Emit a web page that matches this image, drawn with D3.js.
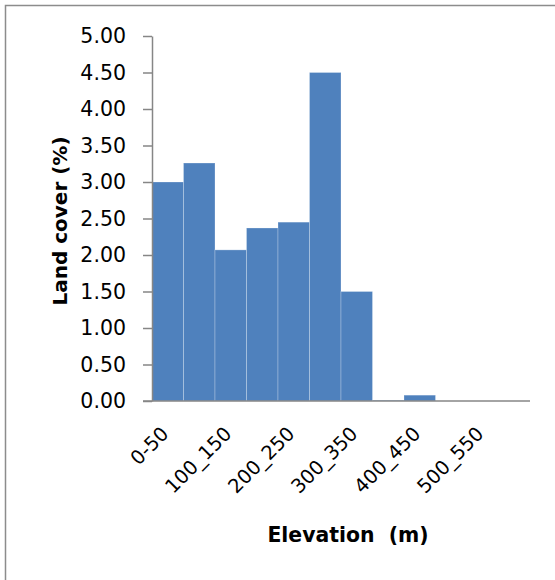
<!DOCTYPE html>
<html>
<head>
<meta charset="utf-8">
<script src="https://cdn.jsdelivr.net/npm/d3@7"></script>
<style>
  html, body { margin: 0; padding: 0; background: #fff; }
  svg { display: block; }
  text { font-family: "DejaVu Sans", "Open Sans", sans-serif; fill: #000; }
</style>
</head>
<body>
<svg id="chart" width="555" height="580"></svg>
<script>
// Share of land cover in each 50 m elevation band
const elevationBands = ["0-50", "50_100", "100_150", "150_200", "200_250", "250_300",
                        "300_350", "350_400", "400_450", "450_500", "500_550", "550_600"];
const landCoverPct = [3.00, 3.26, 2.07, 2.37, 2.45, 4.50, 1.50, 0.01, 0.08, 0, 0, 0];
const yTickValues = [0, 0.5, 1, 1.5, 2, 2.5, 3, 3.5, 4, 4.5, 5];
const xLabelBands = ["0-50", "100_150", "200_250", "300_350", "400_450", "500_550"];

const svg = d3.select("#chart");
const W = 555, H = 580;
const m = { left: 152, right: 25, top: 36, bottom: 179 };

// outer frame (only top and left edges fall inside the view)
svg.append("rect")
  .attr("x", 5.5).attr("y", 5.5)
  .attr("width", 600).attr("height", 600)
  .attr("fill", "none").attr("stroke", "#8c8c8c").attr("stroke-width", 1.5);

const x = d3.scaleBand().domain(elevationBands)
  .range([m.left, W - m.right]).padding(0);
const y = d3.scaleLinear().domain([0, 5]).range([H - m.bottom, m.top]);

const axisColor = "#868686";

// bars
svg.append("g").selectAll("rect")
  .data(elevationBands.map((b, i) => ({ band: b, v: landCoverPct[i] })))
  .join("rect")
  .attr("x", d => x(d.band))
  .attr("y", d => y(d.v))
  .attr("width", x.bandwidth())
  .attr("height", d => y(0) - y(d.v))
  .attr("fill", "#4F81BD")
  .attr("stroke", "rgba(255,255,255,0.25)")
  .attr("stroke-width", 1);

// y axis
const yAxis = svg.append("g")
  .attr("transform", `translate(${m.left},0)`)
  .call(d3.axisLeft(y).tickValues(yTickValues).tickFormat(d3.format(".2f"))
    .tickSizeInner(9).tickSizeOuter(0).tickPadding(17));
yAxis.select(".domain").attr("stroke", axisColor).attr("stroke-width", 1.5);
yAxis.selectAll(".tick line").attr("stroke", axisColor).attr("stroke-width", 1.5);
yAxis.selectAll(".tick text")
  .attr("font-size", 20.5)
  .style("font-family", "'DejaVu Sans', sans-serif")
  .attr("fill", "#000");

// x axis line (extends across the zero tick)
svg.append("line")
  .attr("x1", m.left - 9).attr("x2", W - m.right)
  .attr("y1", y(0)).attr("y2", y(0))
  .attr("stroke", axisColor).attr("stroke-width", 1.5);

// rotated category labels on every other band
svg.append("g").selectAll("text")
  .data(xLabelBands)
  .join("text")
  .attr("transform", d => `translate(${x(d) + x.bandwidth() / 2 + 2},${y(0) + 34}) rotate(-45)`)
  .attr("text-anchor", "end")
  .attr("font-size", 19.5)
  .text(d => d);

// axis titles
svg.append("text")
  .attr("transform", `translate(67,221) rotate(-90)`)
  .attr("text-anchor", "middle")
  .attr("font-size", 20)
  .attr("font-weight", "bold")
  .text("Land cover (%)");

svg.append("text")
  .attr("x", 348).attr("y", 542)
  .attr("text-anchor", "middle")
  .attr("font-size", 20.4)
  .attr("font-weight", "bold")
  .style("white-space", "pre")
  .text("Elevation  (m)");
</script>
</body>
</html>
